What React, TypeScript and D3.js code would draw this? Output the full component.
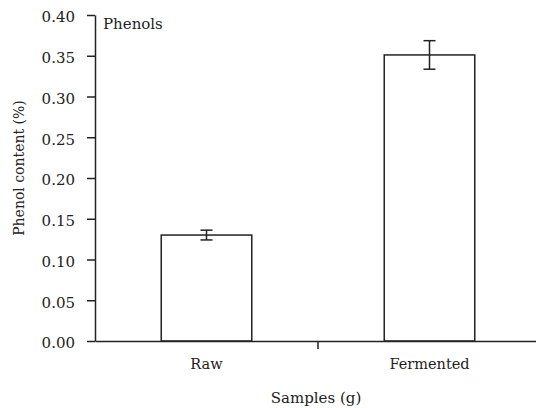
import * as d3 from 'd3';
import React, { useRef, useEffect } from 'react';

const categories = ['Raw', 'Fermented'];
const phenolValues = [0.13, 0.351];
const phenolErrors = [0.006, 0.0175];
const yTicks = [0, 0.05, 0.1, 0.15, 0.2, 0.25, 0.3, 0.35, 0.4];

const width = 536;
const height = 408;

const PhenolChart: React.FC = () => {
    const ref = useRef<SVGSVGElement | null>(null);

    useEffect(() => {
        const margin = { top: 15, left: 95, bottom: 67 };
        const font = "'DejaVu Serif', 'Liberation Serif', serif";
        const ink = '#222';
        const fontSize = '15px';

        const svg = d3
            .select(ref.current)
            .attr('width', width)
            .attr('height', height)
            .attr('font-family', font);
        svg.selectAll('*').remove();

        const x = d3
            .scaleBand()
            .domain(categories)
            .range([margin.left, margin.left + 446])
            .paddingInner(0.594)
            .paddingOuter(0.297);

        const y = d3
            .scaleLinear()
            .domain([0, 0.4])
            .range([height - margin.bottom, margin.top]);

        // bars
        svg.selectAll('rect.bar')
            .data(categories)
            .join('rect')
            .attr('class', 'bar')
            .attr('x', (d) => x(d)!)
            .attr('y', (_, i) => y(phenolValues[i]))
            .attr('width', x.bandwidth())
            .attr('height', (_, i) => y(0) - y(phenolValues[i]))
            .attr('fill', '#fff')
            .attr('stroke', ink)
            .attr('stroke-width', 1.5);

        // error bars
        const cap = 6;
        categories.forEach((c, i) => {
            const cx = x(c)! + x.bandwidth() / 2;
            const hi = y(phenolValues[i] + phenolErrors[i]);
            const lo = y(phenolValues[i] - phenolErrors[i]);
            const g = svg.append('g').attr('stroke', ink).attr('stroke-width', 1.5);
            g.append('line').attr('x1', cx).attr('x2', cx).attr('y1', hi).attr('y2', lo);
            g.append('line').attr('x1', cx - cap).attr('x2', cx + cap).attr('y1', hi).attr('y2', hi);
            g.append('line').attr('x1', cx - cap).attr('x2', cx + cap).attr('y1', lo).attr('y2', lo);
        });

        // y axis
        const yAxis = svg
            .append('g')
            .attr('transform', `translate(${margin.left},0)`)
            .call(
                d3.axisLeft(y)
                    .tickValues(yTicks)
                    .tickFormat(d3.format('.2f'))
                    .tickSize(8)
                    .tickPadding(12)
                    .tickSizeOuter(0)
            )
            .attr('font-family', font);
        yAxis.selectAll('path, line').attr('stroke', ink).attr('stroke-width', 1.5);
        yAxis.selectAll('text')
            .attr('fill', ink)
            .attr('dy', '0.45em')
            .style('font-family', font)
            .style('font-size', fontSize);

        // x axis
        const xAxis = svg
            .append('g')
            .attr('transform', `translate(0,${y(0)})`)
            .call(d3.axisBottom(x).tickSize(0).tickPadding(17.5).tickSizeOuter(0))
            .attr('font-family', font);
        xAxis.select('path').attr('stroke', ink).attr('stroke-width', 1.5);
        xAxis.selectAll('text')
            .attr('fill', ink)
            .style('font-family', font)
            .style('font-size', '14.5px');

        // divider tick between the two categories
        const mid = x(categories[1])! - (x.step() - x.bandwidth()) / 2;
        svg.append('line')
            .attr('x1', mid)
            .attr('x2', mid)
            .attr('y1', y(0))
            .attr('y2', y(0) + 8)
            .attr('stroke', ink)
            .attr('stroke-width', 1.5);

        // titles
        svg.append('text')
            .attr('x', 103)
            .attr('y', 29)
            .attr('fill', ink)
            .style('font-family', font)
            .style('font-size', fontSize)
            .text('Phenols');

        svg.append('text')
            .attr('transform', `translate(24,168) rotate(-90)`)
            .attr('text-anchor', 'middle')
            .attr('fill', ink)
            .style('font-family', font)
            .style('font-size', '14px')
            .text('Phenol content (%)');

        svg.append('text')
            .attr('x', 316)
            .attr('y', 402.5)
            .attr('text-anchor', 'middle')
            .attr('fill', ink)
            .style('font-family', font)
            .style('font-size', fontSize)
            .text('Samples (g)');
    }, []);

    return (
        <svg
            ref={ref}
            style={{ position: 'absolute', left: 0, top: 0, display: 'block', background: '#fff' }}
        ></svg>
    );
};

export default function App() {
    return <PhenolChart />;
}
